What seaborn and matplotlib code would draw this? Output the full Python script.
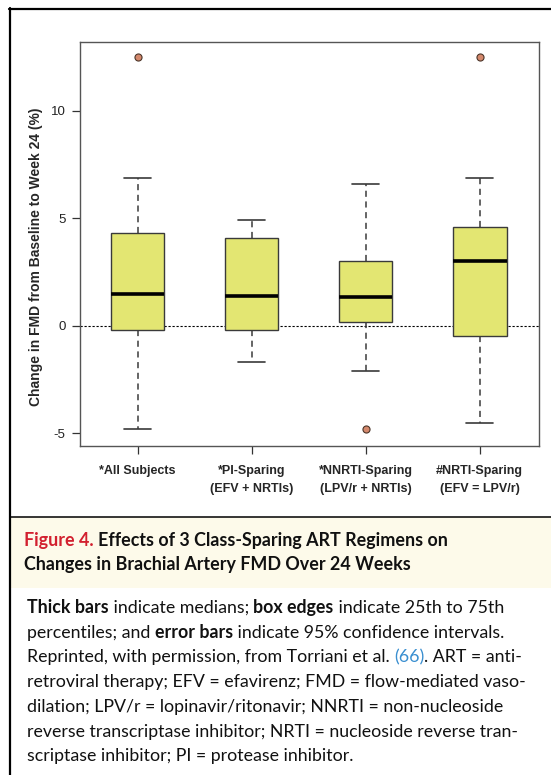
import numpy as np
import pandas as pd
import matplotlib
matplotlib.use("Agg")
import matplotlib.pyplot as plt
import seaborn as sns

# ---------------------------------------------------------------
# data (five-number summary per group)
# ---------------------------------------------------------------
groups = ["*All Subjects", "*PI-Sparing\n(EFV + NRTIs)",
          "*NNRTI-Sparing\n(LPV/r + NRTIs)", "#NRTI-Sparing\n(EFV = LPV/r)"]
whisker_low = [-4.83, -1.69, -2.10, -4.53]
q1 = [-0.21, -0.20, 0.19, -0.48]
median = [1.46, 1.38, 1.34, 3.01]
q3 = [4.30, 4.08, 3.01, 4.61]
whisker_high = [6.89, 4.92, 6.59, 6.89]

outlier_group = [0, 2, 3]
outlier_value = [12.5, -4.83, 12.5]

yticks = [-5, 0, 5, 10]

rows = []
for g, lo, a, m, b, hi in zip(groups, whisker_low, q1, median, q3, whisker_high):
    for v in (lo, a, m, b, hi):
        rows.append({"group": g, "value": v})
df = pd.DataFrame(rows)

# ---------------------------------------------------------------
# figure
# ---------------------------------------------------------------
sns.set_style("white")
plt.rcParams["font.family"] = ["Liberation Sans", "DejaVu Sans"]

W, H = 551, 775
fig = plt.figure(figsize=(W / 100, H / 100), dpi=100)


def fx(x):
    return x / W


def fy(y):
    return 1 - y / H


# caption background + frame lines
fig.patches.append(plt.Rectangle((fx(11), fy(588)), fx(551) - fx(11), fy(517) - fy(588),
                                 transform=fig.transFigure, facecolor="#fdfaea",
                                 edgecolor="none", zorder=0))
fig.add_artist(plt.Line2D([fx(10), fx(10)], [fy(8), fy(775)], color="black", lw=1.6))
fig.add_artist(plt.Line2D([fx(9.2), fx(551)], [fy(9), fy(9)], color="black", lw=1.6))
fig.add_artist(plt.Line2D([fx(10), fx(551)], [fy(516.5), fy(516.5)], color="black", lw=1.1))

ax = fig.add_axes([fx(79.5), fy(445.7), fx(539) - fx(79.5), fy(42) - fy(445.7)])

sns.boxplot(data=df, x="group", y="value", ax=ax, whis=(0, 100), width=0.47,
            color="#e3e672", saturation=1, linecolor="#3a3a3a", linewidth=1.0,
            fliersize=0,
            medianprops={"color": "black", "linewidth": 2.6},
            whiskerprops={"color": "#3a3a3a", "linewidth": 1.1, "linestyle": (0, (4, 3))},
            capprops={"color": "#3a3a3a", "linewidth": 1.2})

sns.scatterplot(x=outlier_group, y=outlier_value, ax=ax, color="#d4886c",
                edgecolor="#4a3428", linewidth=0.8, s=26, zorder=5)

ax.axhline(0, color="black", lw=0.8, ls=(0, (2, 1.6)), zorder=0.5)

ax.set_xlim(-0.51, 3.52)
ax.set_ylim(-5.59, 13.21)
ax.set_yticks(yticks)
ax.set_yticklabels([str(t) for t in yticks], fontsize=9.5, color="#222222")
ax.set_xticks(range(len(groups)))
ax.set_xticklabels(groups, fontsize=9, fontweight="bold", linespacing=1.6)
ax.tick_params(axis="both", direction="out", length=6, width=0.9, color="#333333",
               left=True, bottom=True, pad=4)
ax.tick_params(axis="x", pad=8)
for s in ax.spines.values():
    s.set_color("#555555")
    s.set_linewidth(1.0)
ax.set_xlabel("")
ax.set_ylabel("Change in FMD from Baseline to Week 24 (%)", fontsize=10,
              fontweight="bold")
ax.yaxis.set_label_coords(fx(43), fy(257), transform=fig.transFigure)

# ---------------------------------------------------------------
# caption
# ---------------------------------------------------------------
cap_font = ["Lato", "DejaVu Sans"]
renderer = fig.canvas.get_renderer()


def text_width(s, size, weight):
    t = fig.text(0, 0, s + "|", fontsize=size, fontweight=weight, family=cap_font)
    t2 = fig.text(0, 0, "|", fontsize=size, fontweight=weight, family=cap_font)
    w = t.get_window_extent(renderer).width - t2.get_window_extent(renderer).width
    t.remove()
    t2.remove()
    return w


def runs(x, y, parts, size):
    for s, weight, color in parts:
        fig.text(fx(x), fy(y), s, fontsize=size, fontweight=weight, color=color,
                 family=cap_font, va="baseline", ha="left")
        x += text_width(s, size, weight)


red, blue, black = "#d2202f", "#3a8fd0", "#111111"
title_size = 12.9
runs(24, 546, [("Figure 4. ", "bold", red),
               ("Effects of 3 Class-Sparing ART Regimens on", "bold", black)], title_size)
runs(24, 570, [("Changes in Brachial Artery FMD Over 24 Weeks", "bold", black)], title_size)

body_size = 12.8
body = [
    [("Thick bars", "bold", black), (" indicate medians; ", "normal", black),
     ("box edges", "bold", black), (" indicate 25th to 75th", "normal", black)],
    [("percentiles; and ", "normal", black), ("error bars", "bold", black),
     (" indicate 95% confidence intervals.", "normal", black)],
    [("Reprinted, with permission, from Torriani et al. ", "normal", black),
     ("(66)", "normal", blue), (". ART = anti-", "normal", black)],
    [("retroviral therapy; EFV = efavirenz; FMD = flow-mediated vaso-", "normal", black)],
    [("dilation; LPV/r = lopinavir/ritonavir; NNRTI = non-nucleoside", "normal", black)],
    [("reverse transcriptase inhibitor; NRTI = nucleoside reverse tran-", "normal", black)],
    [("scriptase inhibitor; PI = protease inhibitor.", "normal", black)],
]
for i, line in enumerate(body):
    runs(27, 613 + i * 24.7, line, body_size)

fig.savefig("out.png", dpi=100)
